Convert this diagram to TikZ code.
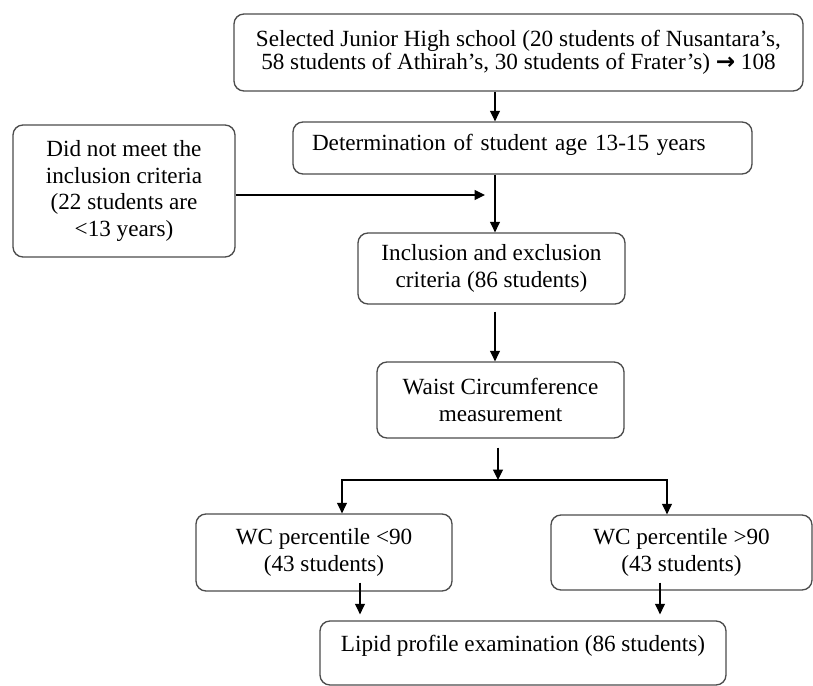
\documentclass[tikz,border=0pt]{standalone}
\usepackage{fontspec}
\setmainfont{Liberation Serif}
\newfontfamily\arrowfont{DejaVu Sans}
\usepackage{tikz}
\usetikzlibrary{shapes.geometric, arrows.meta}
\tikzstyle{box} = [rectangle, rounded corners=6pt, draw=black!70, line width=0.8pt, align=center, inner sep=2pt, font=\fontsize{13.9}{16}\selectfont]
\tikzstyle{arrow} = [line width=0.7pt, -{Triangle[length=6.3pt,width=6pt]}]

\begin{document}
\begin{tikzpicture}
\useasboundingbox (0,0) rectangle (487.8pt,-411.6pt);

\node (sel) [box, minimum width=341.4pt, minimum height=46.2pt, font=\fontsize{13.9}{13.6}\selectfont] at (311.1pt,-31.5pt) {
	Selected Junior High school (20 students of Nusantara’s,\\
	58 students of Athirah’s, 30 students of Frater’s) {\arrowfont\bfseries →} 108
};

\node (det) [box, node distance=57.3pt, below of=sel, xshift=2.4pt, minimum height=31.2pt, text width=252.6pt, inner xsep=11.4pt, align=left, text height=9.5pt, text depth=6.8pt] {Determination of student age 13-15 years};

\node (excl) [box, node distance=239.1pt, left of=det, yshift=-25.8pt, minimum width=133.2pt, minimum height=79.2pt] {
	Did not meet the\\
	inclusion criteria\\
	(22 students are\\
	<13 years)
};

\node (incl) [box, node distance=72.3pt, below of=det, xshift=-18.6pt, minimum width=160.2pt, minimum height=42.6pt] {
	Inclusion and exclusion\\
	criteria (86 students)
};

\node (waist) [box, node distance=78.9pt, below of=incl, xshift=5.4pt, minimum width=148.2pt, minimum height=45.6pt] {
	Waist Circumference\\
	measurement
};

\node (low) [box, node distance=91.5pt, below of=waist, xshift=-105.9pt, minimum width=153.6pt, minimum height=46.2pt] {
	WC percentile <90\\
	(43 students)
};

\node (high) [box, node distance=91.5pt, below of=waist, xshift=108.6pt, minimum width=156.6pt, minimum height=45pt] {
	WC percentile >90\\
	(43 students)
};

\node (lipid) [box, node distance=151.8pt, below of=waist, xshift=13.5pt, minimum width=243.6pt, minimum height=38.4pt, text height=9.5pt, text depth=11.9pt] {Lipid profile examination (86 students)};

\coordinate (cut) at (291pt,-117pt);
\coordinate (split) at (298.8pt,-288pt);

\draw [arrow] ([xshift=-14.1pt]sel.south) -- ([xshift=-14.1pt]sel.south |- det.north);
\draw [arrow] (excl.east |- cut) -- (cut);
\draw [arrow] ([xshift=2.1pt]incl.north |- det.south) -- ([xshift=2.1pt]incl.north);
\draw [arrow, shorten <=4.2pt] ([xshift=2.1pt]incl.south) -- ([xshift=2.1pt]incl.south |- waist.north);
\draw [arrow, shorten <=5.4pt] (waist.south -| split) -- (split);
\draw [arrow] (split) -| ([xshift=10.8pt]low.north);
\draw [arrow] (split) -| ([xshift=-8.7pt]high.north);
\draw [arrow, shorten >=3.6pt] ([xshift=21.6pt,yshift=5.4pt]low.south) -- ([xshift=21.6pt]low.south |- lipid.north);
\draw [arrow, shorten >=3.6pt] ([xshift=-12.9pt,yshift=4.8pt]high.south) -- ([xshift=-12.9pt]high.south |- lipid.north);

\end{tikzpicture}
\end{document}
